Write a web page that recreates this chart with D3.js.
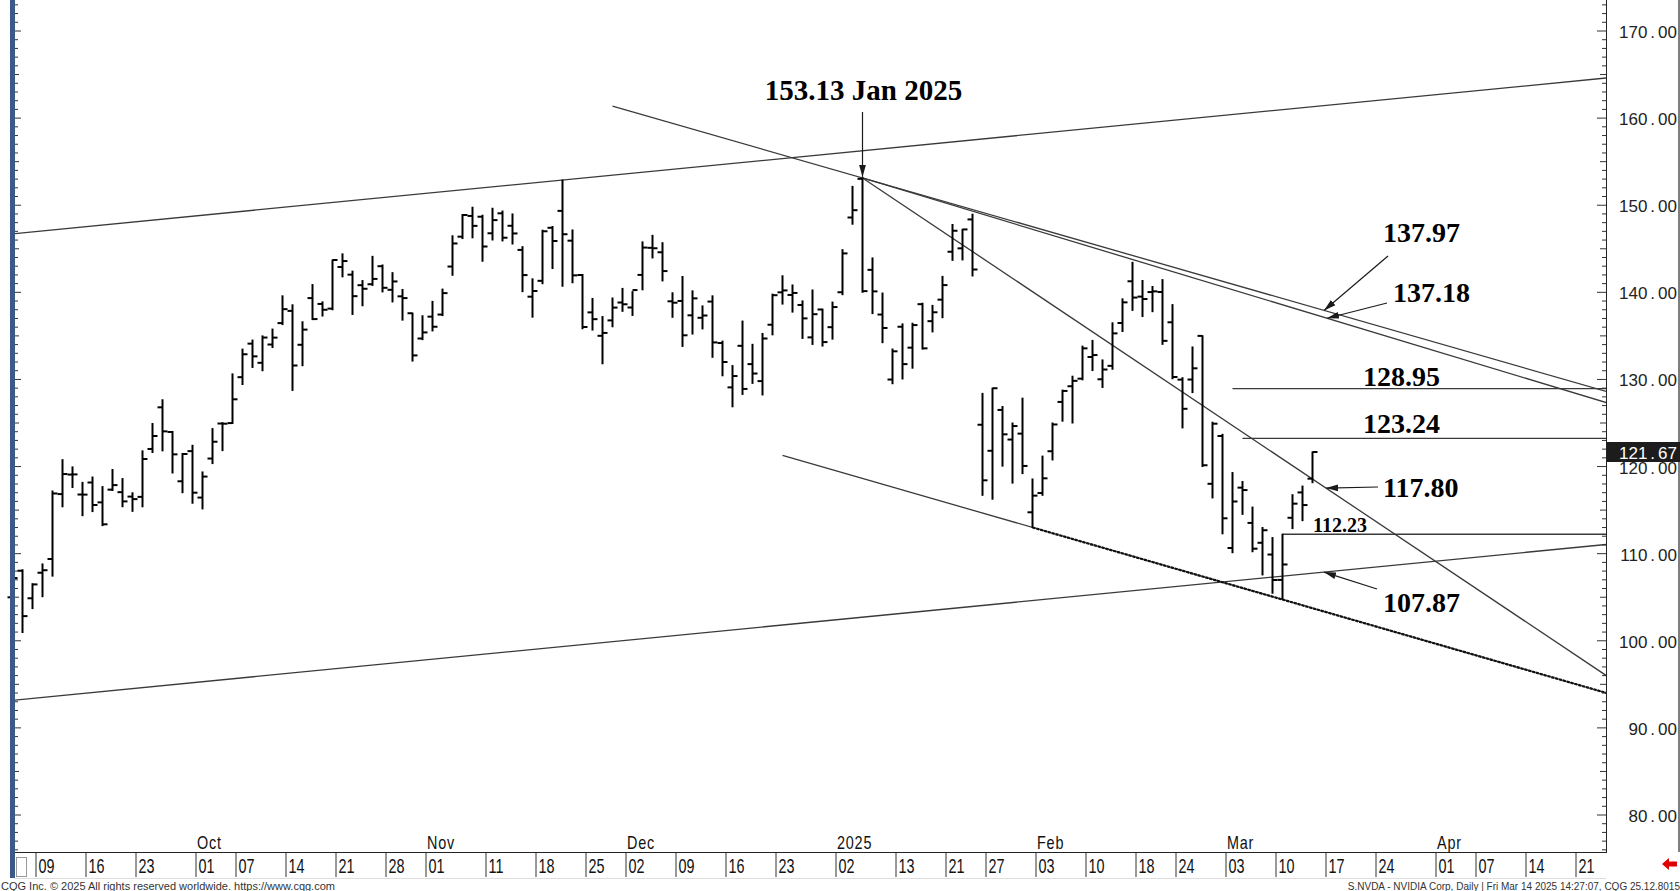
<!DOCTYPE html>
<html><head><meta charset="utf-8">
<script src="https://cdn.jsdelivr.net/npm/d3@7"></script>
<style>
html,body{margin:0;padding:0;background:#fff;overflow:hidden}
svg{display:block}
</style></head><body>
<svg id="chart" width="1680" height="891"></svg>
<script>
// ---------------- DATA ----------------
const dates = ["2024-09-05","2024-09-06","2024-09-09","2024-09-10","2024-09-11","2024-09-12","2024-09-13","2024-09-16","2024-09-17","2024-09-18","2024-09-19","2024-09-20","2024-09-23","2024-09-24","2024-09-25","2024-09-26","2024-09-27","2024-09-30",
"2024-10-01","2024-10-02","2024-10-03","2024-10-04","2024-10-07","2024-10-08","2024-10-09","2024-10-10","2024-10-11","2024-10-14","2024-10-15","2024-10-16","2024-10-17","2024-10-18","2024-10-21","2024-10-22","2024-10-23","2024-10-24","2024-10-25","2024-10-28","2024-10-29","2024-10-30","2024-10-31",
"2024-11-01","2024-11-04","2024-11-05","2024-11-06","2024-11-07","2024-11-08","2024-11-11","2024-11-12","2024-11-13","2024-11-14","2024-11-15","2024-11-18","2024-11-19","2024-11-20","2024-11-21","2024-11-22","2024-11-25","2024-11-26","2024-11-27","2024-11-29",
"2024-12-02","2024-12-03","2024-12-04","2024-12-05","2024-12-06","2024-12-09","2024-12-10","2024-12-11","2024-12-12","2024-12-13","2024-12-16","2024-12-17","2024-12-18","2024-12-19","2024-12-20","2024-12-23","2024-12-24","2024-12-26","2024-12-27","2024-12-30","2024-12-31",
"2025-01-02","2025-01-03","2025-01-06","2025-01-07","2025-01-08","2025-01-10","2025-01-13","2025-01-14","2025-01-15","2025-01-16","2025-01-17","2025-01-21","2025-01-22","2025-01-23","2025-01-24","2025-01-27","2025-01-28","2025-01-29","2025-01-30","2025-01-31",
"2025-02-03","2025-02-04","2025-02-05","2025-02-06","2025-02-07","2025-02-10","2025-02-11","2025-02-12","2025-02-13","2025-02-14","2025-02-18","2025-02-19","2025-02-20","2025-02-21","2025-02-24","2025-02-25","2025-02-26","2025-02-27","2025-02-28",
"2025-03-03","2025-03-04","2025-03-05","2025-03-06","2025-03-07","2025-03-10","2025-03-11","2025-03-12","2025-03-13","2025-03-14"];

const opens = [104.99,108.04,104.88,107.81,109.39,116.84,119.08,116.79,118.17,115.89,117.35,117.06,116.55,116.52,122.02,126.80,123.97,118.31,
121.77,116.44,120.92,124.94,124.99,130.26,134.11,131.91,134.01,136.47,137.87,133.98,139.34,138.67,138.13,142.91,142.03,140.82,140.93,143.00,140.29,139.54,137.60,
134.70,137.21,137.45,142.96,146.39,148.77,148.68,146.78,149.07,147.64,144.87,139.50,141.32,147.41,149.35,145.93,141.99,137.70,135.01,136.78,
138.83,138.26,142.00,145.11,144.60,138.97,139.01,137.36,137.08,138.94,134.18,129.09,133.86,131.76,129.81,136.28,140.00,139.70,138.55,134.83,138.03,
136.00,140.01,148.59,153.03,142.58,137.45,129.99,136.05,133.65,138.64,136.69,139.16,144.66,145.05,148.37,124.80,121.81,126.50,123.10,123.78,
114.75,116.96,121.76,127.42,129.22,130.09,132.58,130.02,131.56,136.48,141.27,139.51,140.03,140.04,136.56,129.98,129.99,135.00,118.02,
123.51,110.65,117.58,113.53,111.25,109.90,106.99,114.12,117.03,118.61];

const highs = [109.65,108.15,106.55,108.82,117.19,120.79,119.96,118.18,118.80,117.70,119.66,118.62,116.99,121.80,124.94,127.67,124.03,121.50,
122.44,119.38,124.36,125.04,130.64,133.48,134.52,135.00,135.78,139.60,138.57,136.62,140.89,138.90,143.71,144.42,142.43,141.35,144.13,143.14,142.26,140.33,137.61,
137.31,138.96,140.37,146.49,148.93,149.77,148.85,149.65,149.33,149.00,145.24,141.55,147.13,147.56,152.89,147.16,142.05,139.30,137.22,139.35,
140.45,140.08,145.79,146.54,145.70,139.95,141.82,140.17,138.44,139.60,134.40,131.59,136.70,134.03,135.28,139.79,141.90,140.85,139.02,140.27,138.07,
138.88,144.90,152.16,153.13,143.95,139.92,133.49,136.38,136.45,138.75,138.50,141.83,147.79,147.23,148.97,128.40,129.00,126.89,125.00,127.85,
118.57,121.20,125.00,128.77,130.37,133.82,134.48,132.24,136.50,139.25,143.44,141.36,140.67,141.46,138.59,130.20,133.73,135.01,125.09,
123.70,119.31,118.28,115.35,113.00,111.85,112.23,116.77,117.76,121.67];

const lows = [104.76,100.95,103.69,105.06,107.42,115.38,117.60,114.36,114.83,113.22,117.25,115.39,114.86,115.38,121.61,121.80,119.26,117.00,
115.79,115.14,120.34,121.83,124.95,129.42,131.38,131.00,133.66,136.30,128.74,131.58,136.87,137.28,138.00,141.78,137.46,138.46,140.80,140.05,138.90,136.81,132.11,
134.57,135.57,137.33,141.96,146.17,146.26,143.57,146.01,145.90,145.55,140.08,137.15,140.99,142.73,140.70,141.10,135.82,135.67,131.80,136.05,
137.82,137.35,140.29,143.95,141.31,137.13,133.79,135.21,135.80,132.54,130.42,126.86,128.28,129.55,128.22,135.12,138.65,137.73,134.71,134.02,133.83,
134.63,139.73,147.82,140.01,137.56,134.22,129.51,130.05,131.29,133.49,135.46,137.09,143.67,143.72,141.88,116.70,116.25,120.05,118.10,119.19,
113.01,116.70,120.76,125.21,125.00,129.96,131.02,129.08,131.17,135.50,137.93,137.22,137.78,134.03,130.08,124.44,128.49,120.01,116.40,
112.28,110.11,114.51,110.22,107.56,105.46,104.77,112.88,113.79,118.15];

const closes = [107.21,102.83,106.47,108.10,116.91,119.14,119.10,116.78,115.59,113.37,117.87,116.00,116.26,120.87,123.51,124.04,121.40,121.44,
117.00,118.85,122.85,124.92,127.72,132.89,132.65,134.81,134.80,138.07,131.60,135.72,136.93,138.00,143.71,143.59,139.56,140.41,141.54,140.52,141.25,139.34,132.76,
135.40,136.05,139.91,145.61,148.88,147.63,145.26,148.29,146.27,146.76,141.98,140.15,147.01,145.89,146.67,141.95,136.02,136.92,135.34,138.25,
138.63,140.26,145.14,145.06,142.44,138.81,135.07,139.31,137.34,134.25,132.00,130.39,128.91,130.68,134.70,139.67,140.22,139.93,137.01,137.49,134.29,
138.31,144.47,149.43,140.14,140.11,135.91,133.23,131.76,136.24,133.57,137.71,140.83,147.07,147.22,142.62,118.42,128.99,123.70,124.65,120.07,
116.66,118.65,124.83,128.68,129.84,133.57,132.80,131.14,135.29,138.85,139.40,139.23,140.11,134.43,130.28,126.63,131.28,120.15,124.92,
114.06,115.99,117.30,110.57,112.69,106.98,108.76,115.74,115.58,121.67];

const holidays = ["2024-11-28","2024-12-25","2025-01-01","2025-01-09","2025-01-20","2025-02-17"];
const calendarEnd = "2025-04-25";

const priceTicks = [80,90,100,110,120,130,140,150,160,170];
const lastPrice = 121.67;

const dateTicks = ["2024-09-09","2024-09-16","2024-09-23","2024-10-01","2024-10-07","2024-10-14","2024-10-21","2024-10-28","2024-11-01","2024-11-11","2024-11-18","2024-11-25","2024-12-02","2024-12-09","2024-12-16","2024-12-23","2025-01-02","2025-01-13","2025-01-21","2025-01-27","2025-02-03","2025-02-10","2025-02-18","2025-02-24","2025-03-03","2025-03-10","2025-03-17","2025-03-24","2025-04-01","2025-04-07","2025-04-14","2025-04-21"];
const dateTickLabels = ["09","16","23","01","07","14","21","28","01","11","18","25","02","09","16","23","02","13","21","27","03","10","18","24","03","10","17","24","01","07","14","21"];
const monthTicks = ["2024-10-01","2024-11-01","2024-12-02","2025-01-02","2025-02-03","2025-03-03","2025-04-01"];
const monthLabels = ["Oct","Nov","Dec","2025","Feb","Mar","Apr"];

// trend lines: two anchor points [date, price]
const channelTop    = [["2024-11-21",152.89],["2025-03-17",161.42]];
const channelBottom = [["2024-11-21",99.34],["2025-03-17",107.87]];
const resistOuter   = [["2025-01-07",153.13],["2025-03-17",137.97]];
const resistInner   = [["2025-01-07",153.13],["2025-03-17",137.18]];
const resistSteep   = [["2025-01-07",153.13],["2025-03-17",117.80]];
const supportDown   = [["2025-02-03",113.01],["2025-03-17",103.41]];
const lineStarts = {resistOuter:"2024-11-29", resistInner:"2025-01-07", resistSteep:"2025-01-07", supportDown:"2024-12-24", supportBold:"2025-02-03"};

const levelValues = [128.95,123.24,112.23];
const levelStarts = ["2025-03-04","2025-03-05","2025-03-11"];

const peakLabel = "153.13 Jan 2025";
const peakDate = "2025-01-07";
const peakPrice = 153.13;
const arrowLabels = ["137.97","137.18","117.80","107.87"];

const footerLeft = "CQG Inc. © 2025 All rights reserved worldwide. https://www.cqg.com";
const footerRight = "S.NVDA - NVIDIA Corp, Daily | Fri Mar 14 2025 14:27:07, CQG 25.12.8015";

// ---------------- CALENDAR ----------------
function buildCalendar(first, last){
  const out=[]; let t=Date.parse(first+"T12:00:00Z"); const end=Date.parse(last+"T12:00:00Z");
  while(t<=end){ const d=new Date(t); const s=d.toISOString().slice(0,10); const wd=d.getUTCDay();
    if(wd!==0&&wd!==6&&!holidays.includes(s)) out.push(s); t+=86400000; }
  return out;
}
const calendar = buildCalendar(dates[0], calendarEnd);
const idx = s => calendar.indexOf(s);

// ---------------- LAYOUT ----------------
const W=1680, H=891, plotL=15, plotR=1606, plotB=852;
const x = d3.scaleLinear().domain([0,130]).range([12.5,1312.5]);
const y = d3.scaleLinear().domain([80,170]).range([815,31]);

const svg = d3.select("#chart");
svg.append("rect").attr("width",W).attr("height",H).attr("fill","#fff");
const defs = svg.append("defs");
defs.append("clipPath").attr("id","pc").append("rect").attr("x",plotL).attr("y",0).attr("width",plotR-plotL).attr("height",plotB);
defs.append("marker").attr("id","ah").attr("markerUnits","userSpaceOnUse")
  .attr("markerWidth",13).attr("markerHeight",8).attr("refX",12).attr("refY",4).attr("orient","auto")
  .append("path").attr("d","M0,0.6 L12,4 L0,7.4 Z").attr("fill","#1a1a1a");

const lines = svg.append("g").attr("clip-path","url(#pc)");
function lineVal(anchors, i){
  const i1=idx(anchors[0][0]), i2=idx(anchors[1][0]);
  return anchors[0][1] + (anchors[1][1]-anchors[0][1])*(i-i1)/(i2-i1);
}
function drawTrend(anchors, startIdx, endIdx, color, width, dash){
  const l = lines.append("line")
    .attr("x1",x(startIdx)).attr("y1",y(lineVal(anchors,startIdx)))
    .attr("x2",x(endIdx)).attr("y2",y(lineVal(anchors,endIdx)))
    .attr("stroke",color).attr("stroke-width",width);
  if(dash) l.attr("stroke-dasharray",dash);
}
const iL = x.invert(plotL-2), iR = x.invert(plotR+2);
drawTrend(channelTop, iL, iR, "#3a3a3a", 1.3);
drawTrend(channelBottom, iL, iR, "#3a3a3a", 1.3);
drawTrend(resistOuter, idx(lineStarts.resistOuter), iR, "#3a3a3a", 1.3);
drawTrend(resistInner, idx(lineStarts.resistInner), iR, "#3a3a3a", 1.3);
drawTrend(resistSteep, idx(lineStarts.resistSteep), iR, "#3a3a3a", 1.3);
drawTrend(supportDown, idx(lineStarts.supportDown), iR, "#3a3a3a", 1.3);
drawTrend(supportDown, idx(lineStarts.supportBold), iR, "#111", 2.2, "3,1");

levelValues.forEach((v,k)=>{
  lines.append("line").attr("x1",x(idx(levelStarts[k]))).attr("x2",plotR)
    .attr("y1",y(v)).attr("y2",y(v)).attr("stroke","#3a3a3a").attr("stroke-width",1.3);
});

// ---------------- BARS ----------------
const bars = svg.append("g");
dates.forEach((d,i)=>{
  const cx = x(idx(d));
  const g = bars.append("g");
  g.append("line").attr("x1",cx).attr("x2",cx).attr("y1",y(highs[i])-0.5).attr("y2",y(lows[i])+0.5).attr("stroke","#000").attr("stroke-width",2);
  g.append("line").attr("x1",cx-5).attr("x2",cx).attr("y1",y(opens[i])).attr("y2",y(opens[i])).attr("stroke","#000").attr("stroke-width",2);
  g.append("line").attr("x1",cx).attr("x2",cx+5).attr("y1",y(closes[i])).attr("y2",y(closes[i])).attr("stroke","#000").attr("stroke-width",2);
});

// ---------------- LEFT STRIP ----------------
svg.append("rect").attr("x",10).attr("y",0).attr("width",5).attr("height",878).attr("fill","#3b5a8a");
const unitTicks = d3.range(Math.ceil(y.invert(plotB)), Math.floor(y.invert(0))+1);
unitTicks.forEach(v=>{
  const len = v%10===0?6:(v%5===0?4:3);
  svg.append("line").attr("x1",15).attr("x2",15+len).attr("y1",y(v)).attr("y2",y(v)).attr("stroke","#333").attr("stroke-width",1);
});

// ---------------- RIGHT AXIS ----------------
svg.append("rect").attr("x",plotR).attr("y",0).attr("width",W-plotR).attr("height",plotB).attr("fill","#fff");
svg.append("line").attr("x1",plotR+0.5).attr("x2",plotR+0.5).attr("y1",0).attr("y2",plotB).attr("stroke","#222").attr("stroke-width",1);
svg.append("line").attr("x1",W-1).attr("x2",W-1).attr("y1",0).attr("y2",plotB).attr("stroke","#555").attr("stroke-width",1.5);
unitTicks.forEach(v=>{
  const len = v%10===0?9:(v%5===0?6:4);
  svg.append("line").attr("x1",plotR-len).attr("x2",plotR).attr("y1",y(v)).attr("y2",y(v)).attr("stroke","#333").attr("stroke-width",1);
});
function priceText(g, v, xx, yy, fill){
  const s = v.toFixed(2).split(".");
  const t = g.append("text").attr("x",xx).attr("y",yy).attr("text-anchor","end").attr("dominant-baseline","central")
    .attr("font-family","Liberation Sans, Arial, sans-serif").attr("font-size",17).attr("fill",fill);
  t.append("tspan").text(s[0]);
  t.append("tspan").attr("dx",3).text(".");
  t.append("tspan").attr("dx",3).text(s[1]);
  return t;
}
const ax = svg.append("g");
priceTicks.forEach(v=> priceText(ax, v, 1677, y(v)+1, "#222"));
svg.append("rect").attr("x",plotR+1).attr("y",y(lastPrice)-10).attr("width",W-plotR-1).attr("height",20).attr("fill","#1c1c1c");
priceText(svg, lastPrice, 1677, y(lastPrice)+1, "#fff");

// ---------------- DATE ROW ----------------
svg.append("line").attr("x1",plotL).attr("x2",plotR+1).attr("y1",plotB+0.5).attr("y2",plotB+0.5).attr("stroke","#222");
svg.append("line").attr("x1",plotL).attr("x2",plotR).attr("y1",878.5).attr("y2",878.5).attr("stroke","#ddd");
svg.append("rect").attr("x",16.5).attr("y",857.5).attr("width",10).attr("height",19).attr("fill","#fff").attr("stroke","#999");
const dr = svg.append("g").attr("font-family","Liberation Sans, Arial, sans-serif").attr("fill","#111");
dateTicks.forEach((d,k)=>{
  const px = x(idx(d))+3.5;
  dr.append("line").attr("x1",px).attr("x2",px).attr("y1",853).attr("y2",877).attr("stroke","#333");
  dr.append("text").attr("transform",`translate(${px+2.5},873) scale(0.72,1)`).attr("font-size",20).text(dateTickLabels[k]);
});
monthTicks.forEach((d,k)=>{
  const px = x(idx(d))+4.5;
  dr.append("text").attr("transform",`translate(${px},849) scale(0.8,1)`).attr("font-size",18).attr("letter-spacing",1).text(monthLabels[k]);
});
// red arrow
svg.append("path").attr("d","M1662,864 L1669,858 L1669,861.5 L1677,861.5 L1677,866.5 L1669,866.5 L1669,870 Z").attr("fill","#e00000");

// footer
svg.append("text").attr("x",1).attr("y",890).attr("font-family","Liberation Sans, Arial, sans-serif").attr("font-size",11).attr("fill","#333").text(footerLeft);
svg.append("text").attr("x",1680).attr("y",890).attr("text-anchor","end").attr("font-family","Liberation Sans, Arial, sans-serif").attr("font-size",10).attr("fill","#333").text(footerRight);

// ---------------- ANNOTATIONS ----------------
const an = svg.append("g").attr("font-family","Liberation Serif, Times New Roman, serif").attr("font-weight","bold").attr("fill","#000");
const pk = x(idx(peakDate));
an.append("text").attr("x",pk+1).attr("y",100).attr("text-anchor","middle").attr("font-size",29).text(peakLabel);
an.append("line").attr("x1",pk).attr("x2",pk).attr("y1",112).attr("y2",y(peakPrice)-1).attr("stroke","#1a1a1a").attr("stroke-width",1.2).attr("marker-end","url(#ah)");

const arrowLines = [resistOuter, resistInner, resistSteep, channelBottom];
const labelPos = [[1383,242],[1393,302],[1383,497],[1383,612]];
const tailPos = [[1388,256],[1387,303],[1378,487],[1377,589]];
const tipX = [1324,1327,1326,1324];
arrowLabels.forEach((t,k)=>{
  an.append("text").attr("x",labelPos[k][0]).attr("y",labelPos[k][1]).attr("font-size",28).text(t);
  const ti = x.invert(tipX[k]);
  an.append("line").attr("x1",tailPos[k][0]).attr("y1",tailPos[k][1]).attr("x2",tipX[k]).attr("y2",y(lineVal(arrowLines[k],ti)))
    .attr("stroke","#1a1a1a").attr("stroke-width",1.2).attr("marker-end","url(#ah)");
});
an.append("text").attr("x",1363).attr("y",386).attr("font-size",28).text(levelValues[0].toFixed(2));
an.append("text").attr("x",1363).attr("y",433).attr("font-size",28).text(levelValues[1].toFixed(2));
an.append("text").attr("x",1313).attr("y",532).attr("font-size",20).text(levelValues[2].toFixed(2));
</script>
</body></html>
